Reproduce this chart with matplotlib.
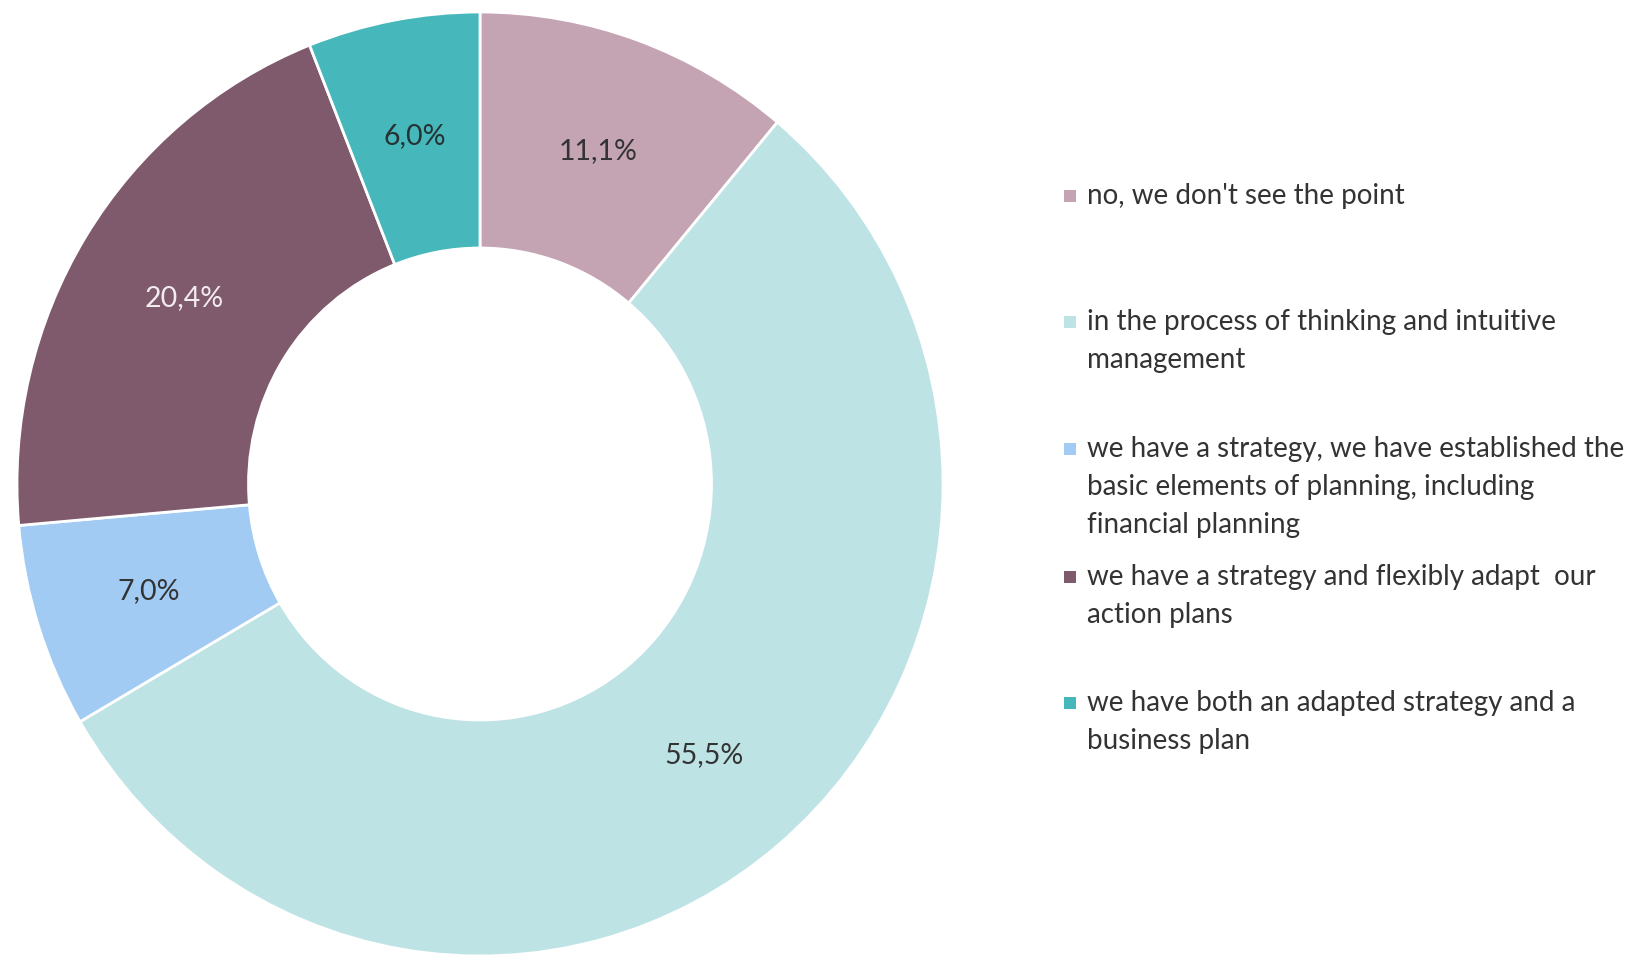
import matplotlib
matplotlib.use("Agg")
import matplotlib.pyplot as plt
from matplotlib.patches import Rectangle
import numpy as np

plt.rcParams['font.family'] = ['Lato', 'DejaVu Sans']

categories = [
    "no, we don't see the point",
    "in the process of thinking and intuitive\nmanagement",
    "we have a strategy, we have established the\nbasic elements of planning, including\nfinancial planning",
    "we have a strategy and flexibly adapt  our\naction plans",
    "we have both an adapted strategy and a\nbusiness plan",
]
values = [11.1, 55.5, 7.0, 20.4, 6.0]
colors = ["#C4A4B3", "#BEE3E5", "#A2CBF4", "#7F596C", "#46B7BA"]
label_colors = ["#333333", "#333333", "#333333", "#F2ECEF", "#263233"]

W, H = 1627, 965
fig = plt.figure(figsize=(W / 100, H / 100), dpi=100)
fig.patch.set_facecolor("white")

# ring is drawn slightly wider than tall
cx, cy, RX, RY = 480, 484, 463, 472
ax = fig.add_axes([(cx - RX) / W, (H - cy - RY) / H, 2 * RX / W, 2 * RY / H])
wedges, _ = ax.pie(
    values, colors=colors, startangle=90, counterclock=False, radius=1.0,
    wedgeprops=dict(width=0.5, edgecolor="white", linewidth=2.0),
)
ax.set_xlim(-1, 1)
ax.set_ylim(-1, 1)
ax.set_aspect("auto")
ax.axis("off")

for w, v, lc in zip(wedges, values, label_colors):
    ang = np.deg2rad((w.theta1 + w.theta2) / 2)
    r = 0.75
    ax.text(r * np.cos(ang), r * np.sin(ang), f"{v:.1f}%".replace(".", ","),
            ha="center", va="center", fontsize=20.5, color=lc)

# Legend drawn by hand: one text per wrapped line, fixed line pitch
first_baselines = [204, 330, 457, 585, 711]
line_pitch = 38
for y, lab, c in zip(first_baselines, categories, colors):
    fig.patches.append(Rectangle((1064 / W, 1 - (y - 2) / H), 12 / W, 12 / H,
                                 transform=fig.transFigure, facecolor=c,
                                 edgecolor="none"))
    for i, line in enumerate(lab.split("\n")):
        fig.text(1087 / W, 1 - (y + i * line_pitch) / H, line, ha="left",
                 va="baseline", fontsize=20, color="#333333")

fig.savefig("out.png", dpi=100)
